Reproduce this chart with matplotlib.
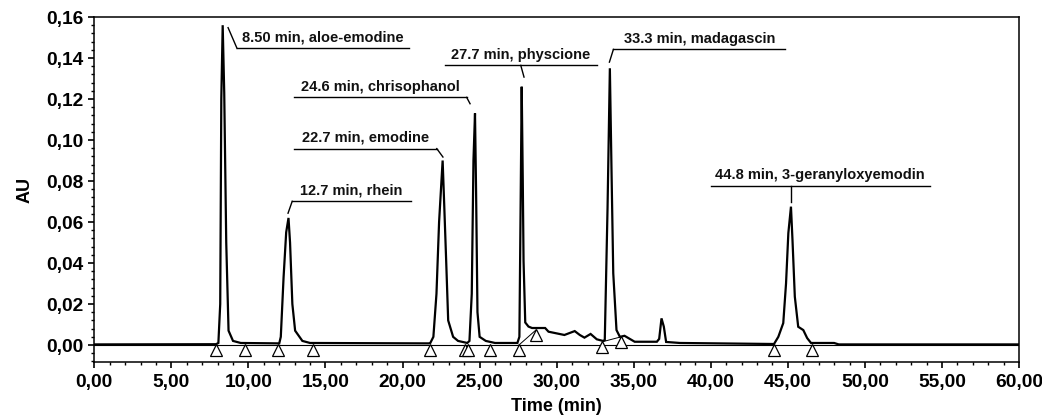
import matplotlib
matplotlib.use('Agg')
import matplotlib.pyplot as plt
from matplotlib.transforms import offset_copy
from matplotlib.ticker import MultipleLocator, FuncFormatter

plt.rcParams['font.family'] = ['Liberation Sans', 'DejaVu Sans']

# chromatogram trace (min, AU)
time = [0.0, 7.9,
        8.05, 8.17, 8.24, 8.33, 8.43, 8.56, 8.71, 9.0, 9.5,
        12.0, 12.1, 12.28, 12.45, 12.6, 12.7, 12.85, 13.03, 13.5, 14.0,
        21.7, 21.8, 22.0, 22.2, 22.37, 22.6, 22.7, 22.83, 22.96, 23.28, 23.6, 24.2,
        24.34, 24.49, 24.6, 24.7, 24.77, 24.86, 25.0, 25.4, 26.0, 27.45,
        27.58, 27.65, 27.73, 27.8, 27.85, 27.96, 28.17, 28.4, 29.25, 29.47,
        30.5, 31.17, 31.5, 31.8, 32.2, 32.6, 33.0,
        33.12, 33.3, 33.45, 33.56, 33.67, 33.88, 34.1, 34.4, 35.06,
        36.5, 36.65, 36.8, 36.95, 37.1, 38.0,
        44.1, 44.38, 44.7, 44.88, 45.03, 45.2, 45.3, 45.45, 45.67, 46.0,
        46.25, 46.5, 48.0, 48.3, 60.0]
au = [0.0003, 0.0004,
      0.001, 0.02, 0.12, 0.156, 0.123, 0.05, 0.007, 0.002, 0.001,
      0.0008, 0.004, 0.033, 0.055, 0.062, 0.05, 0.02, 0.007, 0.002, 0.001,
      0.0008, 0.001, 0.004, 0.025, 0.06, 0.090, 0.069, 0.041, 0.012, 0.004, 0.002, 0.001,
      0.002, 0.025, 0.09, 0.113, 0.075, 0.016, 0.004, 0.002, 0.001, 0.001,
      0.004, 0.06, 0.126, 0.08, 0.041, 0.011, 0.009, 0.0083, 0.0083, 0.0065,
      0.0049, 0.0068, 0.0049, 0.0036, 0.0054, 0.0028, 0.002,
      0.0024, 0.067, 0.135, 0.084, 0.035, 0.0073, 0.004, 0.0045, 0.0016,
      0.0016, 0.003, 0.013, 0.009, 0.0015, 0.001,
      0.0005, 0.004, 0.0107, 0.030, 0.0546, 0.0675, 0.051, 0.0236, 0.0089, 0.0073,
      0.0034, 0.001, 0.001, 0.0003, 0.0003]

# integration start/end marks
mark_time = [7.9, 9.79, 11.9, 14.18, 21.77, 24.04, 24.27, 25.7, 27.55, 28.65,
             32.97, 34.18, 44.1, 46.54]
mark_au = [0, 0, 0, 0, 0, 0, 0, 0, 0, 0.0073, 0.0016, 0.004, 0, 0]

# peak labels
peak_labels = ['8.50 min, aloe-emodine', '12.7 min, rhein', '22.7 min, emodine',
               '24.6 min, chrisophanol', '27.7 min, physcione',
               '33.3 min, madagascin', '44.8 min, 3-geranyloxyemodin']
label_t0 = [9.26, 12.84, 12.97, 12.97, 22.73, 33.68, 40.0]
label_t1 = [20.42, 20.55, 22.22, 24.16, 32.64, 44.82, 54.19]
label_au = [0.1447, 0.0701, 0.0958, 0.1208, 0.1364, 0.1442, 0.0775]
leader_t0 = [9.26, 12.84, 22.22, 24.16, 27.67, 33.68, 45.21]
leader_t1 = [8.68, 12.57, 22.62, 24.38, 27.88, 33.42, 45.21]
leader_au = [0.1548, 0.0643, 0.0917, 0.1177, 0.1307, 0.138, 0.0698]

fig = plt.figure(figsize=(10.42, 4.2), dpi=100)
ax = fig.add_axes([0.0905, 0.138, 0.8875, 0.8215])

# integration baselines
ax.axhline(0, color='black', lw=0.8)
ax.plot([27.55, 28.65], [0, 0.0073], color='black', lw=0.7)
ax.plot([32.97, 34.18], [0.0016, 0.004], color='black', lw=0.7)

ax.plot(time, au, color='black', lw=1.6, solid_joinstyle='miter')

tri = offset_copy(ax.transData, fig=fig, y=-3.6, units='points')
ax.plot(mark_time, mark_au, linestyle='none', marker='^', markersize=8,
        markerfacecolor='white', markeredgecolor='black', markeredgewidth=0.9,
        transform=tri, clip_on=False)

txt = offset_copy(ax.transData, fig=fig, y=4.8, units='points')
for i, lab in enumerate(peak_labels):
    ax.plot([label_t0[i], label_t1[i]], [label_au[i], label_au[i]], color='black', lw=1.0)
    ax.plot([leader_t0[i], leader_t1[i]], [label_au[i], leader_au[i]], color='black', lw=1.0)
    ax.text((label_t0[i] + label_t1[i]) / 2, label_au[i], lab, transform=txt,
            ha='center', va='baseline', fontsize=10.5, fontweight='bold', color='#111111')

ax.set_xlim(0, 60)
ax.set_ylim(-0.0083, 0.16)
ax.xaxis.set_major_locator(MultipleLocator(5))
ax.xaxis.set_minor_locator(MultipleLocator(1))
ax.yaxis.set_major_locator(MultipleLocator(0.02))
ax.yaxis.set_minor_locator(MultipleLocator(0.004))
fmt = FuncFormatter(lambda v, p: '{:.2f}'.format(v).replace('.', ','))
ax.xaxis.set_major_formatter(fmt)
ax.yaxis.set_major_formatter(fmt)
ax.tick_params(which='major', direction='out', length=4, width=1.2, labelsize=13.8, pad=4)
ax.tick_params(which='minor', direction='out', length=2.2, width=1.0)
ax.tick_params(axis='x', which='major', pad=4.5)
for lab in ax.get_xticklabels() + ax.get_yticklabels():
    lab.set_fontweight('bold')
for s in ax.spines.values():
    s.set_linewidth(1.1)

ax.set_xlabel('Time (min)', fontsize=13, fontweight='bold', labelpad=5)
ax.set_ylabel('AU', fontsize=13, fontweight='bold', labelpad=9)

fig.savefig('out.png', dpi=100)
